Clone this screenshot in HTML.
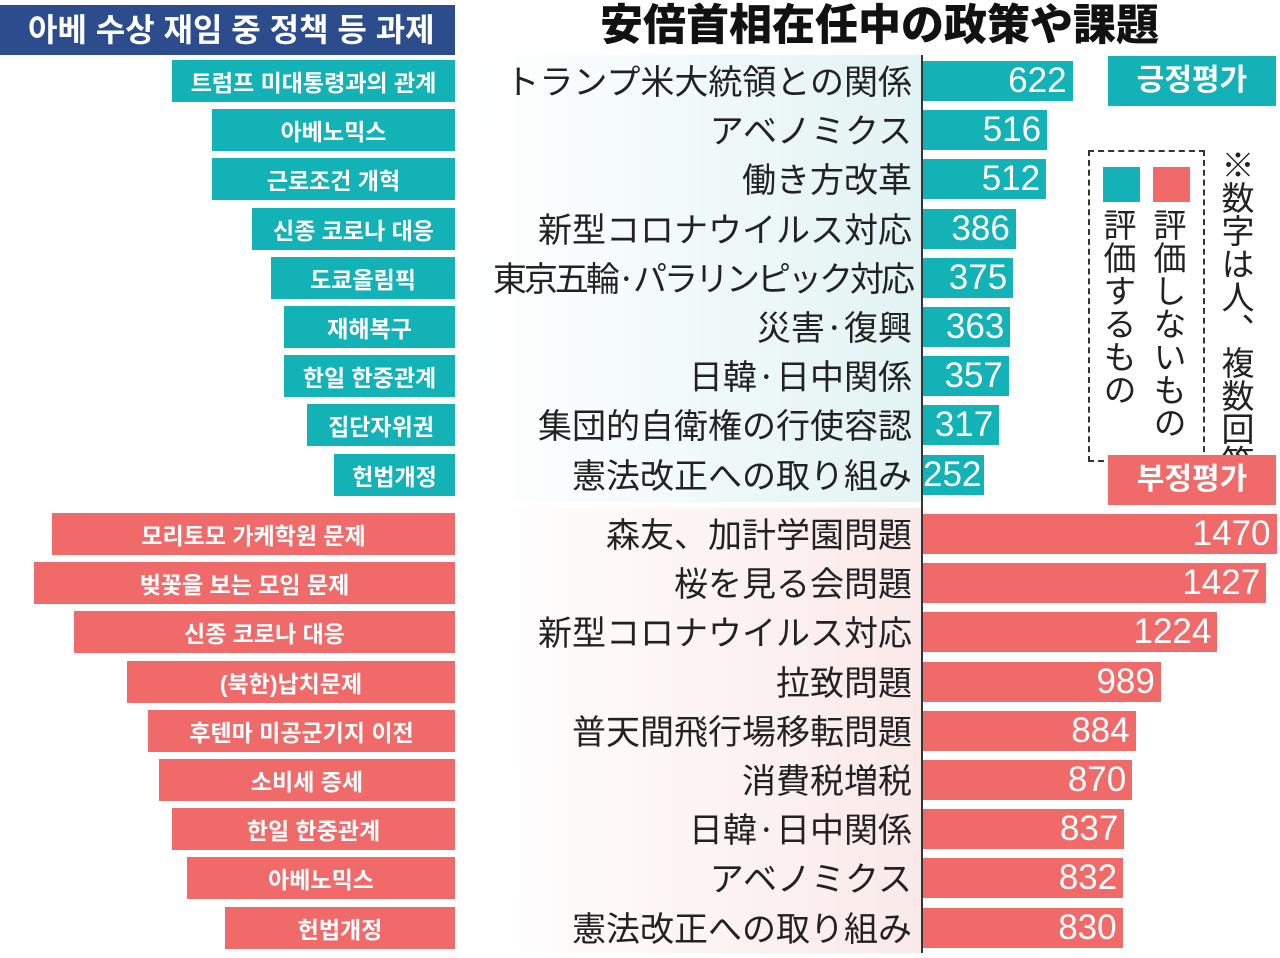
<!DOCTYPE html>
<html><head><meta charset="utf-8"><style>
body{margin:0;width:1280px;height:958px;background:#fff;overflow:hidden;position:relative;font-family:"Liberation Sans","Noto Sans CJK JP",sans-serif}
.abs{position:absolute}
.kl{position:absolute;color:#fff;font-family:"Liberation Sans","Noto Sans CJK KR",sans-serif;font-weight:bold;font-size:23px;text-align:center;display:flex;align-items:center;justify-content:center}
.jl{position:absolute;right:368px;font-family:"Noto Sans CJK JP",sans-serif;font-size:34px;color:#222;white-space:nowrap;line-height:40px}
.bar{position:absolute;color:#fff;font-size:35px;text-align:right;line-height:40px;box-sizing:border-box;padding-right:6px;font-family:"Liberation Sans",sans-serif}
.vt{position:absolute;writing-mode:vertical-rl;font-family:"Noto Sans CJK JP",sans-serif;font-size:33px;color:#222;line-height:36px;white-space:nowrap}
</style></head><body>
<div class="abs" style="left:480px;top:55px;width:442px;height:447px;background:linear-gradient(90deg,#fff,#e2f3f3)"></div>
<div class="abs" style="left:480px;top:508px;width:442px;height:445px;background:linear-gradient(90deg,#fff,#fbe9e9)"></div>
<div class="abs" style="left:0;top:5px;width:455px;height:50px;background:#2c4c8e;color:#fff;font-family:'Liberation Sans','Noto Sans CJK KR',sans-serif;font-weight:bold;font-size:32px;line-height:50px;padding-left:28px;box-sizing:border-box">아베 수상 재임 중 정책 등 과제</div>
<div class="abs" style="left:600px;top:-5px;font-family:'Noto Sans CJK JP',sans-serif;font-weight:900;font-size:43px;color:#111;line-height:54px">安倍首相在任中の政策や課題</div>
<div class="abs" style="left:921px;top:55px;width:2px;height:898px;background:#333"></div>
<div class="abs" style="left:1108px;top:56px;width:168px;height:50px;background:#13b2b6;color:#fff;font-family:'Liberation Sans','Noto Sans CJK KR',sans-serif;font-weight:bold;font-size:30px;line-height:50px;text-align:center">긍정평가</div>
<div class="abs" style="left:1088px;top:150px;width:117px;height:312px;border:2px dashed #333;box-sizing:border-box"></div>
<div class="abs" style="left:1103px;top:167px;width:37px;height:35px;background:#13b2b6"></div>
<div class="abs" style="left:1153px;top:167px;width:37px;height:35px;background:#f06a6a"></div>
<div class="vt" style="left:1102px;top:208px">評価するもの</div>
<div class="vt" style="left:1152px;top:208px">評価しないもの</div>
<div class="vt" style="left:1218px;top:148px;width:38px;height:307px;overflow:hidden">※数字は人、複数回答</div>
<div class="abs" style="left:1108px;top:455px;width:168px;height:50px;background:#f06a6a;color:#fff;font-family:'Liberation Sans','Noto Sans CJK KR',sans-serif;font-weight:bold;font-size:30px;line-height:50px;text-align:center">부정평가</div>
<div id="root"></div>
<script>
const posKo=["트럼프 미대통령과의 관계","아베노믹스","근로조건 개혁","신종 코로나 대응","도쿄올림픽","재해복구","한일 한중관계","집단자위권","헌법개정"];
const posJa=["トランプ米大統領との関係","アベノミクス","働き方改革","新型コロナウイルス対応","東京五輪·パラリンピック対応","災害·復興","日韓·日中関係","集団的自衛権の行使容認","憲法改正への取り組み"];
const posVal=[622,516,512,386,375,363,357,317,252];
const negKo=["모리토모 가케학원 문제","벚꽃을 보는 모임 문제","신종 코로나 대응","(북한)납치문제","후텐마 미공군기지 이전","소비세 증세","한일 한중관계","아베노믹스","헌법개정"];
const negJa=["森友、加計学園問題","桜を見る会問題","新型コロナウイルス対応","拉致問題","普天間飛行場移転問題","消費税増税","日韓·日中関係","アベノミクス","憲法改正への取り組み"];
const negVal=[1470,1427,1224,989,884,870,837,832,830];
const posKoLeft=[172,212,212,252,271,284,284,307,334];
const negKoLeft=[52,34,74,127,148,159,172,187,225];
const x0=923, k=0.2405;
const xs=v=>v*k;
const root=document.getElementById('root');
function draw(ko,ja,val,lefts,top0,color,tag){
  for(let i=0;i<ko.length;i++){
    const cy=top0+i*49.2;
    const a=document.createElement('div');a.className='kl';
    
    
    a.style.cssText=`left:${lefts[i]}px;top:${cy-21}px;width:${455-lefts[i]}px;height:42px;background:${color}`;
    a.textContent=ko[i];root.appendChild(a);
    const j=document.createElement('div');j.className='jl';
    
    
    j.style.top=(cy-21)+'px';j.textContent=ja[i];
    if(ja[i].length>13){j.style.letterSpacing='-3px';}
    root.appendChild(j);
    const b=document.createElement('div');b.className='bar';
    
    
    b.style.cssText=`left:${x0}px;top:${cy-20}px;width:${xs(val[i])}px;height:40px;background:${color}`;
    b.textContent=val[i];root.appendChild(b);
  }
}
draw(posKo,posJa,posVal,posKoLeft,81,'#13b2b6','positive');
draw(negKo,negJa,negVal,negKoLeft,534,'#f06a6a','negative');
</script>
</body></html>
